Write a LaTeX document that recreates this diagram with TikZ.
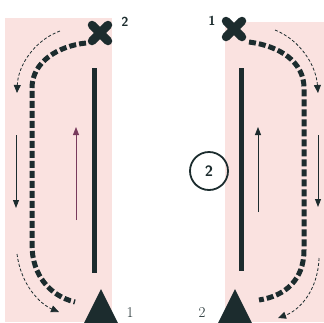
\documentclass[tikz,border=0pt]{standalone}
\usepackage{tikz}
\usetikzlibrary{arrows.meta, positioning, calc}
\definecolor{mypink}{RGB}{250,226,224}
\definecolor{mydark}{RGB}{28,44,46}
\definecolor{mypurple}{RGB}{120,58,92}
\tikzset{
  lane/.style={fill=mypink, draw=none},
  pole/.style={line width=5pt, color=mydark},
  runpath/.style={line width=5pt, color=mydark, dash pattern=on 7pt off 3pt},
  swing/.style={-{Triangle[length=8pt, width=7pt]}, line width=0.8pt, color=mydark, dash pattern=on 3pt off 2pt},
  dirarrow/.style={-{Triangle[length=8pt, width=6pt]}, line width=0.9pt, color=mydark},
  cone/.style={fill=mydark, draw=none},
  crossmark/.style={line width=8.5pt, color=mydark, line cap=round},
  numlabel/.style={font=\fontsize{15}{15}\selectfont, text=mydark, inner sep=0pt}
}
\begin{document}
\begin{tikzpicture}[x=1pt, y=-1pt]
  \useasboundingbox (0,0) rectangle (324,322);

  % Lanes
  \fill[lane] (5,18) rectangle (112,322);
  \fill[lane] (225,22) rectangle (324,322);

  % Start and turn markers
  \coordinate (xa) at (100,33);
  \coordinate (xb) at (234,29);
  \draw[crossmark] ($(xa)+(-8,-8)$) -- ($(xa)+(8,8)$);
  \draw[crossmark] ($(xa)+(-8,8)$) -- ($(xa)+(8,-8)$);
  \draw[crossmark] ($(xb)+(-8,-8)$) -- ($(xb)+(8,8)$);
  \draw[crossmark] ($(xb)+(-8,8)$) -- ($(xb)+(8,-8)$);
  \node[font=\sffamily\bfseries\fontsize{13}{13}\selectfont, text=mydark] (xalabel) at (125,22) {2};
  \node[font=\sffamily\bfseries\fontsize{13}{13}\selectfont, text=mydark] (xblabel) at (212,21) {1};

  % Poles
  \coordinate (pa1) at (94,68);
  \coordinate (pa2) at (94,273);
  \coordinate (pb1) at (241,68);
  \coordinate (pb2) at (241,271);
  \draw[pole] (pa1) -- (pa2);
  \draw[pole] (pb1) -- (pb2);

  % Cones
  \coordinate (ca) at (101,289);
  \coordinate (cb) at (235,289);
  \fill[cone] (ca) -- ++(-18,36) -- ++(36,0) -- cycle;
  \fill[cone] (cb) -- ++(-18,36) -- ++(36,0) -- cycle;
  \node[numlabel] (calabel) at (130,313) {1};
  \node[numlabel] (cblabel) at (202,313) {2};

  % Station
  \node[circle, draw=mydark, line width=1.8pt, minimum size=38pt, inner sep=0pt,
    font=\sffamily\bfseries\fontsize{15}{15}\selectfont, text=mydark] (station) at (209,171) {2};

  % Running lines
  \coordinate (ra1) at (86,43);
  \coordinate (ra2) at (32,88);
  \coordinate (ra3) at (32,245);
  \coordinate (ra4) at (75,302);
  \draw[runpath] (ra1) .. controls (58,46) and (32,62) .. (ra2) -- (ra3)
    .. controls (32,275) and (50,296) .. (ra4);
  \coordinate (rb1) at (249,42);
  \coordinate (rb2) at (304,88);
  \coordinate (rb3) at (304,250);
  \coordinate (rb4) at (259,300);
  \draw[runpath] (rb1) .. controls (280,46) and (304,62) .. (rb2) -- (rb3)
    .. controls (304,280) and (285,296) .. (rb4);

  % Swings
  \coordinate (sa1) at (60,31);
  \coordinate (sa2) at (17,93);
  \coordinate (sa3) at (17,254);
  \coordinate (sa4) at (59,312);
  \draw[swing] (sa1) .. controls (35,40) and (18,65) .. (sa2);
  \draw[swing] (sa3) .. controls (21,285) and (40,304) .. (sa4);
  \coordinate (sb1) at (275,30);
  \coordinate (sb2) at (318,93);
  \coordinate (sb3) at (319,258);
  \coordinate (sb4) at (278,318);
  \draw[swing] (sb1) .. controls (300,40) and (316,65) .. (sb2);
  \draw[swing] (sb3) .. controls (318,290) and (300,310) .. (sb4);

  % Directions
  \coordinate (da1) at (16,135);
  \coordinate (da2) at (16,208);
  \coordinate (ua1) at (76,220);
  \coordinate (ua2) at (76,127);
  \coordinate (ub1) at (258,212);
  \coordinate (ub2) at (258,127);
  \coordinate (db1) at (318,135);
  \coordinate (db2) at (318,207);
  \draw[dirarrow] (da1) -- (da2);
  \draw[dirarrow, color=mypurple] (ua1) -- (ua2);
  \draw[dirarrow] (ub1) -- (ub2);
  \draw[dirarrow] (db1) -- (db2);

\end{tikzpicture}
\end{document}
